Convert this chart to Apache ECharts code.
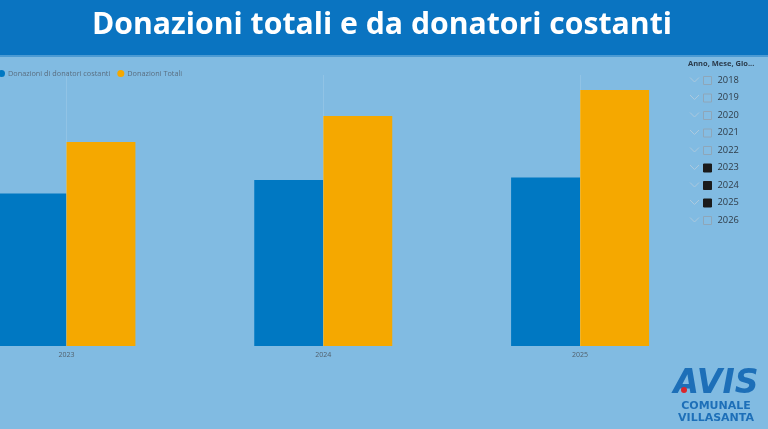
<!DOCTYPE html>
<html><head><meta charset="utf-8">
<script src="https://cdn.jsdelivr.net/npm/echarts@6/dist/echarts.min.js"></script>
<style>html,body{margin:0;padding:0;background:#81bbe2;overflow:hidden;width:768px;height:429px;position:relative;}
#c{position:absolute;left:-63px;top:0;width:831px;height:429px;}</style>
</head><body><div id="c"></div>
<script>
const categories = ['2023', '2024', '2025'];
const donatoriCostanti = [911, 992, 1008];
const donazioniTotali = [1219, 1375, 1530];
const seriesNames = ['Donazioni di donatori costanti', 'Donazioni Totali'];
const slicerYears = ['2018','2019','2020','2021','2022','2023','2024','2025','2026'];
const slicerChecked = [false,false,false,false,false,true,true,true,false];

const OFF = 63; // chart canvas is shifted left by this amount
const chart = echarts.init(document.getElementById('c'));
const graphics = [
  {type:'rect', shape:{x:0,y:0,width:831,height:55}, style:{fill:'#0a74c1'}},
  {type:'rect', shape:{x:0,y:55,width:831,height:2}, style:{fill:'#4b9ad3'}},
  {type:'text', x:382+OFF, y:25, style:{text:'Donazioni totali e da donatori costanti', fill:'#ffffff', font:'bold 30.2px "Open Sans"', align:'center', verticalAlign:'middle'}},
  {type:'text', x:688+OFF, y:64, style:{text:'Anno, Mese, Gio...', fill:'#2a3a4a', font:'bold 7.5px "Open Sans"', verticalAlign:'middle'}}
];
slicerYears.forEach((y,i)=>{
  const cy = 80 + i*17.5;
  graphics.push({type:'polyline', shape:{points:[[690+OFF,cy-2.5],[694.5+OFF,cy+2],[699+OFF,cy-2.5]]}, style:{stroke:'#acc9de', lineWidth:1, fill:null}});
  graphics.push({type:'rect', shape:{x:703.5+OFF,y:cy-3.5,width:8,height:8}, style:{fill: slicerChecked[i] ? '#1b1b1b' : '#85bde3', stroke: slicerChecked[i] ? '#1b1b1b' : '#8ea6b9', lineWidth:1}});
  graphics.push({type:'text', x:717.5+OFF, y:cy, style:{text:y, fill:'#2f3b47', font:'9.3px "Open Sans"', verticalAlign:'middle'}});
});
// logo
graphics.push({type:'text', x:716+OFF, y:384, style:{text:'AVIS', fill:'#1d6fb8', font:'italic 900 33px "DejaVu Sans"', align:'center', verticalAlign:'middle'}});
graphics.push({type:'circle', shape:{cx:684+OFF,cy:390,r:3}, style:{fill:'#d9262c'}});
graphics.push({type:'text', x:716+OFF, y:406, style:{text:'COMUNALE', fill:'#1d6fb8', font:'bold 11px "DejaVu Sans"', align:'center', verticalAlign:'middle'}});
graphics.push({type:'text', x:716+OFF, y:418, style:{text:'VILLASANTA', fill:'#1d6fb8', font:'bold 11px "DejaVu Sans"', align:'center', verticalAlign:'middle'}});

chart.setOption({
  backgroundColor:'#81bbe2',
  animation:false,
  graphic: graphics,
  legend:{
    left:56, top:65, icon:'circle', itemWidth:7, itemHeight:7, itemGap:7,
    textStyle:{color:'#5a6e80', fontSize:7.3, fontFamily:'Open Sans', padding:[0,0,0,-2]},
    data: seriesNames
  },
  grid:{left:1, right:59.5, top:75, bottom:83},
  xAxis:{
    type:'category', data:categories,
    axisLine:{show:false}, axisTick:{show:false},
    axisLabel:{color:'#52606c', fontSize:7, margin:5, fontFamily:'Open Sans'},
    splitLine:{show:false}
  },
  yAxis:{type:'value', min:0, max:1620, show:false, splitLine:{show:false}},
  series:[
    {name:seriesNames[0], type:'bar', data:donatoriCostanti, barWidth:69, barGap:'0%', z:3, itemStyle:{color:'#0078c2'}},
    {name:seriesNames[1], type:'bar', data:donazioniTotali, barWidth:69, z:3, itemStyle:{color:'#f5a800'}},
    {name:'guide', type:'line', data:[], z:1, silent:true,
     markLine:{symbol:'none', silent:true, label:{show:false},
       lineStyle:{color:'rgba(255,255,255,0.13)', type:'solid', width:1},
       data: categories.map(c=>({xAxis:c}))}}
  ]
});
</script></body></html>
